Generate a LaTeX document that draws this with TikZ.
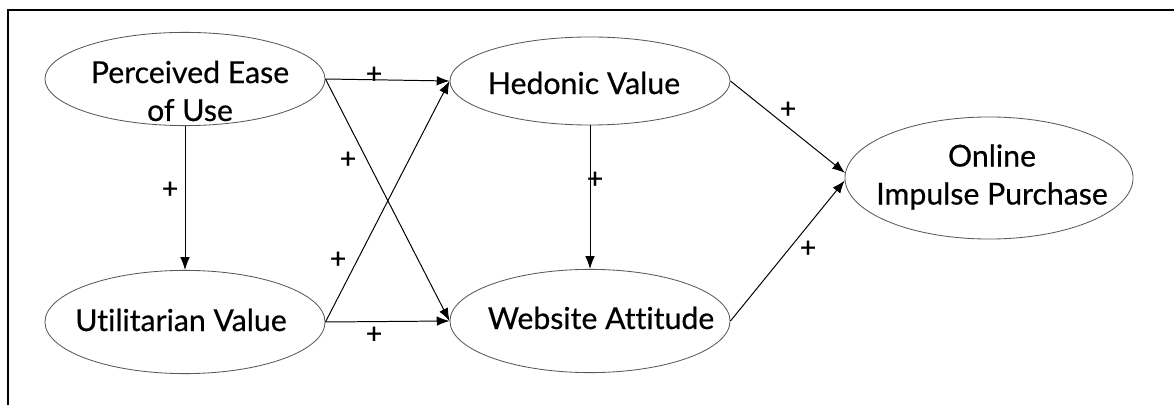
\documentclass[tikz,border=0pt]{standalone}
\usepackage{fontspec}
\setmainfont{Lato}[FakeBold=0.5,Ligatures=NoCommon]
\usetikzlibrary{shapes.geometric,arrows.meta}

\begin{document}
\begin{tikzpicture}[x=0.025cm,y=-0.025cm,
  oval/.style={ellipse,draw=black!65,line width=0.6pt,minimum width=7cm,inner sep=0pt},
  txt/.style={align=center,font=\fontsize{21.5}{27}\selectfont},
  arr/.style={line width=0.7pt,-{Latex[length=3.2mm,width=2.4mm]}},
  sgn/.style={font=\fontsize{20}{20}\selectfont}]
\useasboundingbox (0,0) rectangle (1174,405);
\draw[line width=1.5pt] (8,415) -- (8,10) -- (1180,10);

% constructs
\node[oval,minimum height=2.33cm] (peu) at (185,79) {};
\node[oval,minimum height=2.58cm] (uv) at (185,322) {};
\node[oval,minimum height=2.2cm] (hv) at (590,81) {};
\node[oval,minimum height=2.58cm] (wa) at (590,321) {};
\node[oval,minimum width=7.2cm,minimum height=3.05cm] (oip) at (989,178) {};

% texts
\node[txt] (peut) at (190,91) {Perceived Ease\\of Use};
\node[txt] (uvt) at (181,320) {Utilitarian Value};
\node[txt] (hvt) at (584,83) {Hedonic Value};
\node[txt] (wat) at (601,318) {Website Attitude};
\node[txt] (oipt) at (992,177) {Online\\Impulse Purchase};

% paths
\draw[arr] (peu.south) -- (uv.north);
\draw[arr] (peu.east) -- (hv.west);
\draw[arr] (peu.east) -- (wa.west);
\draw[arr] (uv.east) -- (hv.west);
\draw[arr] (uv.east) -- (wa.west);
\draw[arr] (hv.south) -- (wa.north);
\draw[arr] (hv.east) -- (oip.178);
\draw[arr] (wa.east) -- (oip.181);

% signs
\node[sgn] (s1) at (170,190) {+};
\node[sgn] (s2) at (374,75) {+};
\node[sgn] (s3) at (348,160) {+};
\node[sgn] (s4) at (338,260) {+};
\node[sgn] (s5) at (374,335) {+};
\node[sgn] (s6) at (595,180) {+};
\node[sgn] (s7) at (788,110) {+};
\node[sgn] (s8) at (808,249) {+};
\end{tikzpicture}
\end{document}
